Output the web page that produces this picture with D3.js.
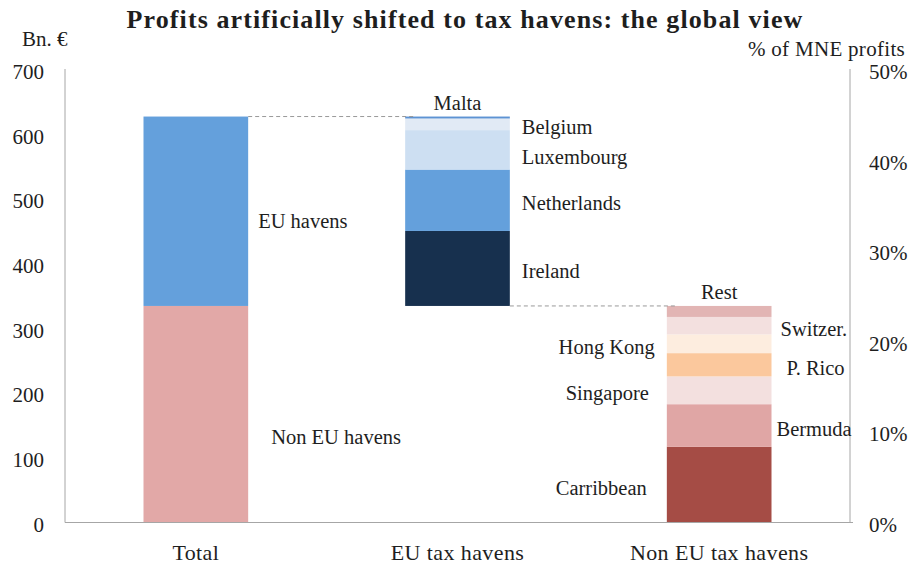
<!DOCTYPE html>
<html>
<head>
<meta charset="utf-8">
<script src="https://cdn.jsdelivr.net/npm/d3@7"></script>
<style>
  body { margin: 0; background: #fff; }
  text { font-family: "Liberation Serif", "DejaVu Serif", serif; fill: #1e1e1e; }
</style>
</head>
<body>
<div id="chart"></div>
<script>
var width = 915, height = 564;
var margin = { top: 70, left: 65, right: 65, bottom: 41.5 };

// categories on the x axis
var categories = ["Total", "EU tax havens", "Non EU tax havens"];

// EU havens, bottom to top (bn. €)
var euNames = ["Ireland", "Netherlands", "Luxembourg", "Belgium", "Malta"];
var euValues = [116, 95, 61, 18, 3];
var euColors = ["#17304e", "#64a0dc", "#cddff2", "#e1eaf5", "#5d93d3"];

// Non EU havens, bottom to top (bn. €)
var nonEuNames = ["Carribbean", "Bermuda", "Singapore", "P. Rico", "Hong Kong", "Switzer.", "Rest"];
var nonEuValues = [117, 66, 43, 36, 29, 27, 17];
var nonEuColors = ["#a54c45", "#e0a6a5", "#f3e0df", "#fbc89d", "#fdeddf", "#f3e0df", "#e2b5b4"];

// left axis ticks (bn. €), right axis ticks (% of MNE profits)
var leftTicks = [0, 100, 200, 300, 400, 500, 600, 700];
var rightTicks = [0, 10, 20, 30, 40, 50];

var euTotal = d3.sum(euValues), nonEuTotal = d3.sum(nonEuValues);

var svg = d3.select("#chart").append("svg")
  .attr("width", width).attr("height", height);

var x = d3.scaleBand()
  .domain(categories)
  .range([margin.left, width - margin.right])
  .paddingInner(0.6).paddingOuter(0.3);

var y = d3.scaleLinear().domain([0, 700]).range([height - margin.bottom, margin.top]);
var yPct = d3.scaleLinear().domain([0, 50]).range([height - margin.bottom, margin.top]);

var axisColor = "#a6a6a6";

// title
svg.append("text")
  .attr("x", 465).attr("y", 28)
  .attr("text-anchor", "middle")
  .style("font-size", "26px").style("font-weight", "bold")
  .style("letter-spacing", "1.1px")
  .text("Profits artificially shifted to tax havens: the global view");

svg.append("text").attr("x", 22).attr("y", 46)
  .style("font-size", "21px").text("Bn. €");
svg.append("text").attr("x", 905).attr("y", 56).attr("text-anchor", "end")
  .style("font-size", "21px").style("letter-spacing", "0.3px").text("% of MNE profits");

// axes lines
svg.append("line")
  .attr("x1", margin.left).attr("x2", margin.left)
  .attr("y1", y(700) - 1).attr("y2", y(0))
  .attr("stroke", axisColor);
svg.append("line")
  .attr("x1", width - margin.right).attr("x2", width - margin.right)
  .attr("y1", y(700) - 1).attr("y2", y(0))
  .attr("stroke", axisColor);

svg.selectAll(".lt").data(leftTicks).enter().append("text")
  .attr("class", "lt")
  .attr("x", 44).attr("y", function(d) { return y(d) + 2; })
  .attr("text-anchor", "end").attr("dominant-baseline", "central")
  .style("font-size", "21px")
  .text(function(d) { return d; });

svg.selectAll(".rt").data(rightTicks).enter().append("text")
  .attr("class", "rt")
  .attr("x", 869).attr("y", function(d) { return yPct(d) + 2; })
  .attr("dominant-baseline", "central")
  .style("font-size", "21px")
  .text(function(d) { return d + "%"; });

// stacked bar helper
function stack(names, values, colors, base) {
  var out = [], acc = base;
  names.forEach(function(n, i) {
    out.push({ name: n, y0: acc, y1: acc + values[i], color: colors[i] });
    acc += values[i];
  });
  return out;
}

var totalBars = [
  { name: "Non EU havens", y0: 0, y1: nonEuTotal, color: "#e2a8a7" },
  { name: "EU havens", y0: nonEuTotal, y1: nonEuTotal + euTotal, color: "#64a0dc" }
];
var euBars = stack(euNames, euValues, euColors, nonEuTotal);
var nonEuBars = stack(nonEuNames, nonEuValues, nonEuColors, 0);

function drawBars(data, cat) {
  svg.selectAll(null).data(data).enter().append("rect")
    .attr("x", x(cat))
    .attr("width", x.bandwidth())
    .attr("y", function(d) { return y(d.y1); })
    .attr("height", function(d) { return y(d.y0) - y(d.y1); })
    .attr("fill", function(d) { return d.color; });
}
drawBars(totalBars, categories[0]);
drawBars(euBars, categories[1]);
drawBars(nonEuBars, categories[2]);

// bottom axis line
svg.append("line")
  .attr("x1", margin.left).attr("x2", width - margin.right + 3)
  .attr("y1", y(0)).attr("y2", y(0))
  .attr("stroke", axisColor);

// connector dashes
svg.append("line")
  .attr("x1", x(categories[0]) + x.bandwidth()).attr("x2", x(categories[1]) + 9)
  .attr("y1", y(nonEuTotal + euTotal)).attr("y2", y(nonEuTotal + euTotal))
  .attr("stroke", "#999").attr("stroke-dasharray", "4,3");
svg.append("line")
  .attr("x1", x(categories[1]) + x.bandwidth()).attr("x2", x(categories[2]) + 8)
  .attr("y1", y(nonEuTotal)).attr("y2", y(nonEuTotal))
  .attr("stroke", "#999").attr("stroke-dasharray", "4,3");

// category labels
svg.selectAll(".cat").data(categories).enter().append("text")
  .attr("x", function(d) { return x(d) + x.bandwidth() / 2; })
  .attr("y", 560)
  .attr("text-anchor", "middle")
  .style("font-size", "22px").style("letter-spacing", "0.4px")
  .text(function(d) { return d; });

// segment labels: side and tweaks
var labelSide = {
  "Ireland": "r", "Netherlands": "r", "Luxembourg": "r", "Belgium": "r", "Malta": "top",
  "Carribbean": "l", "Bermuda": "r", "Singapore": "l", "P. Rico": "r",
  "Hong Kong": "l", "Switzer.": "r", "Rest": "top",
  "EU havens": "r", "Non EU havens": "r"
};
var labelDx = { "EU havens": 10, "Non EU havens": 23, "P. Rico": 15, "Bermuda": 5, "Switzer.": 9,
  "Singapore": -18, "Carribbean": -20 };
var labelDy = { "EU havens": 7, "Non EU havens": 20, "Luxembourg": 4 };

function drawLabels(data, cat) {
  var x0 = x(cat), x1 = x0 + x.bandwidth();
  svg.selectAll(null).data(data).enter().append("text")
    .attr("x", function(d) {
      var s = labelSide[d.name];
      if (s === "top") return (x0 + x1) / 2;
      var dx = labelDx[d.name] !== undefined ? labelDx[d.name] : (s === "r" ? 12 : -12);
      return s === "r" ? x1 + dx : x0 + dx;
    })
    .attr("y", function(d) {
      if (labelSide[d.name] === "top") return y(d.y1) - 14;
      return (y(d.y0) + y(d.y1)) / 2 + 3 + (labelDy[d.name] || 0);
    })
    .attr("text-anchor", function(d) {
      var s = labelSide[d.name];
      return s === "top" ? "middle" : (s === "r" ? "start" : "end");
    })
    .attr("dominant-baseline", "central")
    .style("font-size", "20.5px")
    .text(function(d) { return d.name; });
}
drawLabels(totalBars, categories[0]);
drawLabels(euBars, categories[1]);
drawLabels(nonEuBars, categories[2]);
</script>
</body>
</html>
